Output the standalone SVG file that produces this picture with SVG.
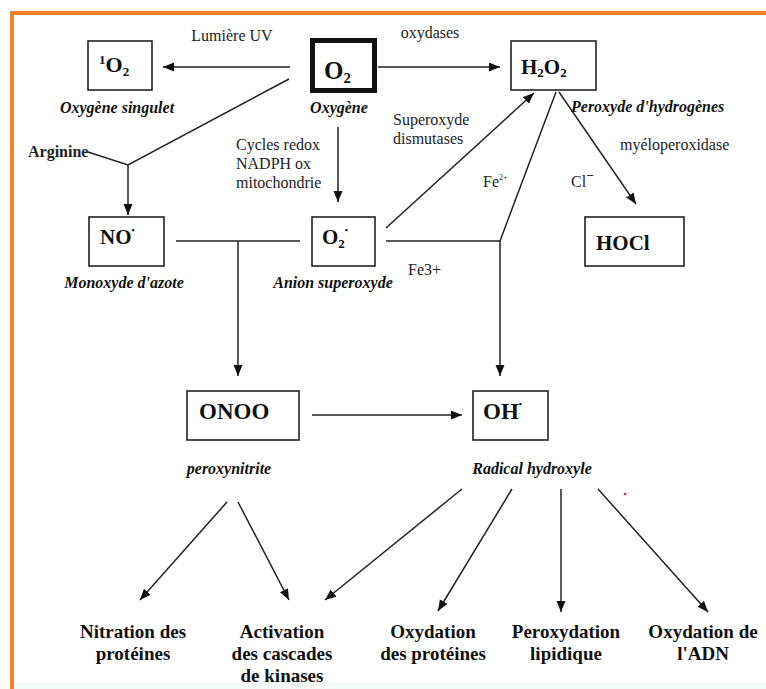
<svg xmlns="http://www.w3.org/2000/svg" width="766" height="689" viewBox="0 0 766 689">
<style>
.box{fill:#fff;stroke:#222;stroke-width:1.6}
.ln{fill:none;stroke:#222;stroke-width:1.5}
text{font-family:'Liberation Serif','Times New Roman',Times,'DejaVu Serif',serif}
.node{font-weight:bold;fill:#111}
.lab{font-size:16px;fill:#222}
.it{font-size:16px;font-weight:bold;font-style:italic;fill:#111}
.out{font-size:19px;font-weight:bold;fill:#111;text-anchor:middle}
</style>
<defs>
<marker id="ah" markerUnits="userSpaceOnUse" markerWidth="12" markerHeight="10" refX="11" refY="4.5" orient="auto">
<path d="M0,0 L11,4.5 L0,9 z" fill="#111"/>
</marker>
</defs>
<rect x="0" y="0" width="766" height="689" fill="#fff"/>
<rect x="14" y="682" width="752" height="7" fill="#f5f9f7"/>
<g id="frame">
<line x1="10" y1="13" x2="766" y2="13" stroke="#f5822a" stroke-width="4"/>
<line x1="12" y1="13" x2="12" y2="689" stroke="#f5822a" stroke-width="4"/>
</g>
<g id="connectors">
<line class="ln" x1="290" y1="67" x2="163" y2="67" marker-end="url(#ah)"/>
<line class="ln" x1="378" y1="67" x2="500" y2="67" marker-end="url(#ah)"/>
<polyline class="ln" points="289,79 128,165 88,152"/>
<line class="ln" x1="128" y1="165" x2="128" y2="215" marker-end="url(#ah)"/>
<line class="ln" x1="338" y1="127" x2="338" y2="202" marker-end="url(#ah)"/>
<line class="ln" x1="176" y1="241" x2="300" y2="241"/>
<line class="ln" x1="238" y1="241" x2="238" y2="376" marker-end="url(#ah)"/>
<line class="ln" x1="386" y1="228" x2="534" y2="93" marker-end="url(#ah)"/>
<polyline class="ln" points="556,92 500,241 386,241"/>
<line class="ln" x1="500" y1="241" x2="500" y2="376" marker-end="url(#ah)"/>
<line class="ln" x1="559" y1="92" x2="636" y2="204" marker-end="url(#ah)"/>
<line class="ln" x1="312" y1="415" x2="462" y2="415" marker-end="url(#ah)"/>
<line class="ln" x1="227" y1="502" x2="140" y2="600" marker-end="url(#ah)"/>
<line class="ln" x1="238" y1="502" x2="289" y2="600" marker-end="url(#ah)"/>
<line class="ln" x1="462" y1="489" x2="325" y2="600" marker-end="url(#ah)"/>
<line class="ln" x1="512" y1="489" x2="438" y2="611" marker-end="url(#ah)"/>
<line class="ln" x1="561" y1="489" x2="561" y2="612" marker-end="url(#ah)"/>
<line class="ln" x1="598" y1="489" x2="708" y2="612" marker-end="url(#ah)"/>
</g>
<circle cx="625" cy="494" r="1.3" fill="#e02020"/>
<g id="n-1o2">
<rect class="box" x="88" y="41" width="64" height="49"/>
<text class="node" x="99" y="72" font-size="22"><tspan font-size="13" dy="-8">1</tspan><tspan dy="8">O</tspan><tspan font-size="13" dy="4">2</tspan></text>
<text class="it" x="117" y="113" text-anchor="middle">Oxygène singulet</text>
</g>
<g id="n-o2">
<rect x="312.5" y="40.5" width="62" height="50" fill="#fff" stroke="#111" stroke-width="5"/>
<text class="node" x="324" y="79" font-size="25">O<tspan font-size="15" dy="4">2</tspan></text>
<text class="it" x="339" y="113" text-anchor="middle">Oxygène</text>
</g>
<g id="n-h2o2">
<rect class="box" x="511" y="41" width="85" height="49"/>
<text class="node" x="521" y="74" font-size="21">H<tspan font-size="13" dy="3">2</tspan><tspan dy="-3">O</tspan><tspan font-size="13" dy="3">2</tspan></text>
<text class="it" x="571" y="112">Peroxyde d'hydrogènes</text>
</g>
<g id="n-no">
<rect class="box" x="89" y="217" width="75" height="49"/>
<text class="node" x="100" y="244" font-size="21">NO<tspan font-size="9" dy="-11">•</tspan></text>
<text class="it" x="124" y="288" text-anchor="middle">Monoxyde d'azote</text>
</g>
<g id="n-o2rad">
<rect class="box" x="312" y="217" width="63" height="49"/>
<text class="node" x="322" y="244" font-size="21">O<tspan font-size="13" dy="4">2</tspan><tspan font-size="9" dy="-15">•</tspan></text>
<text class="it" x="333" y="288" text-anchor="middle">Anion superoxyde</text>
</g>
<g id="n-hocl">
<rect class="box" x="585" y="217" width="99" height="49"/>
<text class="node" x="596" y="250" font-size="21">HOCl</text>
</g>
<g id="n-onoo">
<rect class="box" x="187" y="391" width="112" height="49"/>
<text class="node" x="199" y="419" font-size="23">ONOO</text>
<text class="it" x="229" y="474" text-anchor="middle">peroxynitrite</text>
</g>
<g id="n-oh">
<rect class="box" x="473" y="391" width="75" height="49"/>
<text class="node" x="483" y="419" font-size="23">OH<tspan font-size="9" dy="-12">•</tspan></text>
<text class="it" x="532" y="474" text-anchor="middle">Radical hydroxyle</text>
</g>
<g id="labels">
<text class="lab" x="232" y="41" text-anchor="middle">Lumière UV</text>
<text class="lab" x="430" y="38" text-anchor="middle">oxydases</text>
<text class="lab" x="28" y="157" font-weight="bold">Arginine</text>
<text class="lab" x="236" y="150">Cycles redox</text>
<text class="lab" x="236" y="169">NADPH ox</text>
<text class="lab" x="236" y="188">mitochondrie</text>
<text class="lab" x="393" y="125">Superoxyde</text>
<text class="lab" x="393" y="144">dismutases</text>
<text class="lab" x="620" y="150">myéloperoxidase</text>
<text class="lab" x="483" y="187" font-size="15">Fe<tspan font-size="8" dy="-7">2+</tspan></text>
<text class="lab" x="571" y="187" font-size="15">Cl<tspan font-size="13" font-weight="bold" dy="-7">−</tspan></text>
<text class="lab" x="408" y="275">Fe3+</text>
</g>
<g id="outcomes">
<text class="out" x="133" y="638">Nitration des</text>
<text class="out" x="133" y="660">protéines</text>
<text class="out" x="282" y="638">Activation</text>
<text class="out" x="282" y="660">des cascades</text>
<text class="out" x="282" y="682">de kinases</text>
<text class="out" x="433" y="638">Oxydation</text>
<text class="out" x="433" y="660">des protéines</text>
<text class="out" x="566" y="638">Peroxydation</text>
<text class="out" x="566" y="660">lipidique</text>
<text class="out" x="703" y="638">Oxydation de</text>
<text class="out" x="703" y="660">l'ADN</text>
</g>
</svg>
